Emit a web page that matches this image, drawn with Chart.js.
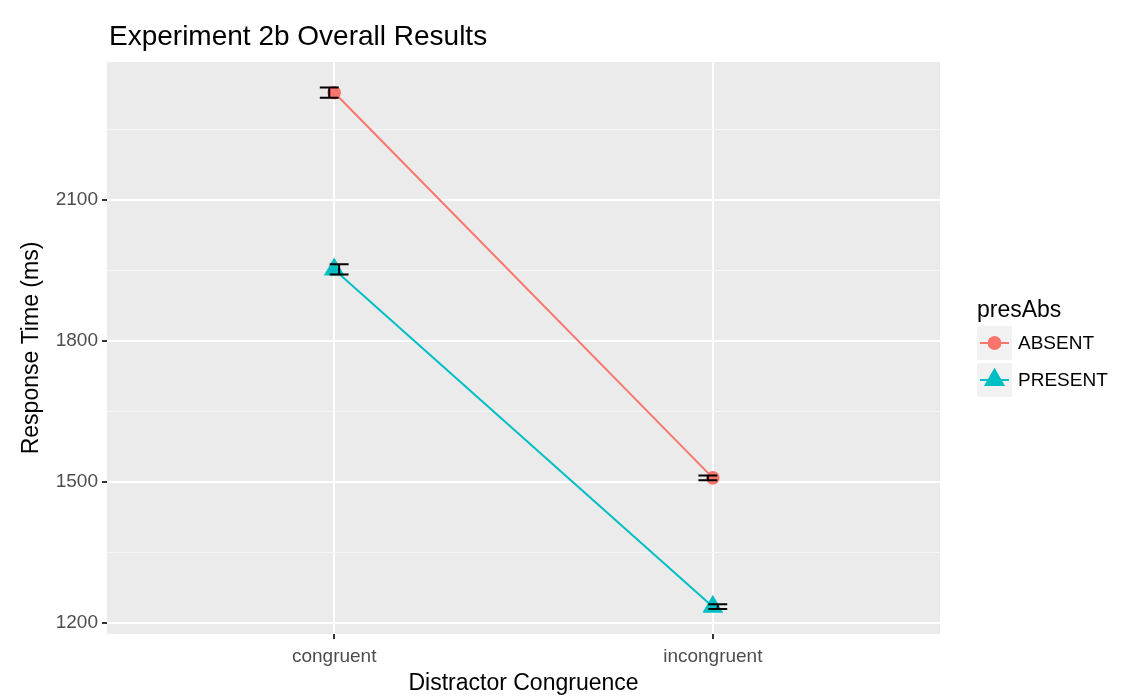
<!DOCTYPE html>
<html>
<head>
<meta charset="utf-8">
<script src="https://cdn.jsdelivr.net/npm/chart.js@4.4.1/dist/chart.umd.min.js"></script>
<style>
  html, body { margin: 0; padding: 0; background: #ffffff; }
  #wrap { width: 1123px; height: 698px; }
</style>
</head>
<body>
<div id="wrap"><canvas id="c" width="1123" height="698"></canvas></div>
<script>
// Mean response times (ms) and standard errors per distractor condition
const categories = ['congruent', 'incongruent'];
const groups = ['ABSENT', 'PRESENT'];
const absentMean = [2328, 1509];
const absentSE = [11, 5];
const presentMean = [1952, 1235];
const presentSE = [11, 5];
const yMajorTicks = [1200, 1500, 1800, 2100];
const yMinorTicks = [1350, 1650, 1950, 2250];

const FONT = '"Liberation Sans", Arial, Helvetica, sans-serif';
const COLORS = ['#F8766D', '#00BFC4'];
const STYLES = ['circle', 'triangle'];
const RADII = [6.8, 12];
const means = [absentMean, presentMean];
const ses = [absentSE, presentSE];
const DODGE = [-0.013, 0.013];
const CAP = 0.025;

const datasets = groups.map((g, gi) => ({
  label: g,
  data: categories.map((c, i) => ({ x: i + 1, y: means[gi][i] })),
  borderColor: COLORS[gi],
  backgroundColor: COLORS[gi],
  borderWidth: 2,
  pointStyle: STYLES[gi],
  pointRadius: RADII[gi],
  pointHoverRadius: RADII[gi],
  pointBorderWidth: 0,
  tension: 0
}));

// Grey panel behind the grid
const panel = {
  id: 'panel',
  beforeDraw(chart) {
    const { ctx, chartArea: a } = chart;
    ctx.save();
    ctx.fillStyle = '#EBEBEB';
    ctx.fillRect(a.left, a.top, a.right - a.left, a.bottom - a.top);
    ctx.restore();
  }
};

// Standard-error bars, dodged slightly per group
const errorBars = {
  id: 'errorBars',
  afterDatasetsDraw(chart) {
    const { ctx, scales: { x, y } } = chart;
    ctx.save();
    ctx.strokeStyle = '#000000';
    ctx.lineWidth = 2;
    groups.forEach((g, gi) => {
      categories.forEach((c, i) => {
        const cx = i + 1 + DODGE[gi];
        const px = x.getPixelForValue(cx);
        const x0 = x.getPixelForValue(cx - CAP);
        const x1 = x.getPixelForValue(cx + CAP);
        const yt = y.getPixelForValue(means[gi][i] + ses[gi][i]);
        const yb = y.getPixelForValue(means[gi][i] - ses[gi][i]);
        ctx.beginPath();
        ctx.moveTo(px, yt); ctx.lineTo(px, yb);
        ctx.moveTo(x0, yt); ctx.lineTo(x1, yt);
        ctx.moveTo(x0, yb); ctx.lineTo(x1, yb);
        ctx.stroke();
      });
    });
    ctx.restore();
  }
};

// Title and legend
const annotations = {
  id: 'annotations',
  afterDraw(chart) {
    const ctx = chart.ctx;
    ctx.save();
    ctx.fillStyle = '#000000';
    ctx.textAlign = 'left';
    ctx.textBaseline = 'alphabetic';
    ctx.font = '28px ' + FONT;
    ctx.fillText('Experiment 2b Overall Results', 109, 45);

    ctx.font = '23px ' + FONT;
    ctx.fillText('presAbs', 977, 317);

    groups.forEach((g, gi) => {
      const bx = 977, by = 326 + gi * 37, bw = 35, bh = 34;
      const cx = bx + bw / 2, cy = by + bh / 2;
      ctx.fillStyle = '#F2F2F2';
      ctx.fillRect(bx, by, bw, bh);
      ctx.strokeStyle = COLORS[gi];
      ctx.lineWidth = 2;
      ctx.beginPath();
      ctx.moveTo(bx + 3, cy); ctx.lineTo(bx + bw - 3, cy);
      ctx.stroke();
      ctx.fillStyle = COLORS[gi];
      Chart.helpers.drawPoint(ctx, { pointStyle: STYLES[gi], radius: RADII[gi], rotation: 0, borderWidth: 0 }, cx, cy);
      ctx.fill();
      ctx.fillStyle = '#000000';
      ctx.font = '19px ' + FONT;
      ctx.textBaseline = 'middle';
      ctx.fillText(g, 1018, cy + 1);
      ctx.textBaseline = 'alphabetic';
    });
    ctx.restore();
  }
};

const isMajor = v => yMajorTicks.includes(v);

new Chart(document.getElementById('c'), {
  type: 'line',
  data: { datasets },
  plugins: [panel, errorBars, annotations],
  options: {
    responsive: false,
    devicePixelRatio: 1,
    animation: false,
    layout: { padding: { left: 0, top: 62, right: 183, bottom: 0 } },
    plugins: {
      legend: { display: false },
      title: { display: false },
      tooltip: { enabled: false }
    },
    scales: {
      x: {
        type: 'linear',
        min: 0.4,
        max: 2.6,
        afterBuildTicks: s => { s.ticks = categories.map((c, i) => ({ value: i + 1 })); },
        afterFit: s => { s.height = 64; },
        border: { display: false },
        grid: { color: '#FFFFFF', lineWidth: 2, tickColor: '#333333', tickLength: 5, drawTicks: true },
        ticks: {
          autoSkip: false,
          maxRotation: 0,
          padding: 6,
          color: '#4D4D4D',
          font: { family: FONT, size: 19 },
          callback: v => categories[v - 1]
        },
        title: {
          display: true,
          text: 'Distractor Congruence',
          color: '#000000',
          font: { family: FONT, size: 23 },
          padding: { top: 0, bottom: 1 }
        }
      },
      y: {
        type: 'linear',
        min: 1177,
        max: 2393,
        afterBuildTicks: s => {
          s.ticks = [...yMajorTicks, ...yMinorTicks].sort((a, b) => a - b).map(v => ({ value: v }));
        },
        afterFit: s => { s.width = 107; },
        border: { display: false },
        grid: {
          color: c => isMajor(c.tick.value) ? '#FFFFFF' : '#F6F6F6',
          lineWidth: c => isMajor(c.tick.value) ? 2 : 1,
          tickColor: c => isMajor(c.tick.value) ? '#333333' : 'rgba(0,0,0,0)',
          tickLength: 5,
          drawTicks: true
        },
        ticks: {
          autoSkip: false,
          padding: 4,
          color: '#4D4D4D',
          font: { family: FONT, size: 19 },
          callback: v => isMajor(v) ? String(v) : ''
        },
        title: {
          display: true,
          text: 'Response Time (ms)',
          color: '#000000',
          font: { family: FONT, size: 23 },
          padding: { top: 18, bottom: 0 }
        }
      }
    }
  }
});
</script>
</body>
</html>
